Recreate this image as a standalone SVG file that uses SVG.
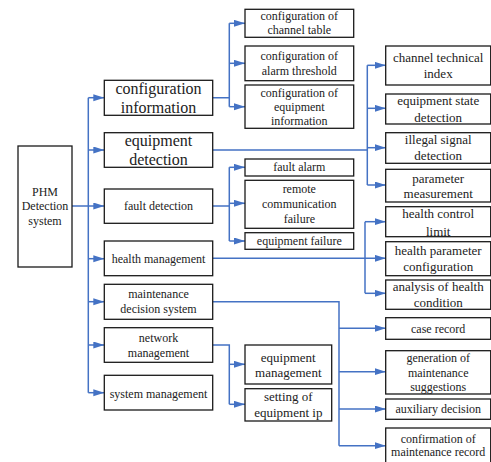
<svg xmlns="http://www.w3.org/2000/svg" width="491" height="462" viewBox="0 0 491 462">
<style>
.b{fill:#fff;stroke:#1a1a1a;stroke-width:1.3}
.t{font-family:"Liberation Serif","Times New Roman",serif;fill:#222;text-anchor:middle}
.s12{font-size:12px}.s13{font-size:13px}.s16{font-size:16px}
.c{fill:none;stroke:#4472C4;stroke-width:1.5}
</style>
<defs>
<marker id="a" markerUnits="userSpaceOnUse" markerWidth="12" markerHeight="8" refX="11" refY="3.5" orient="auto">
<path d="M0,0 L11,3.5 L0,7 z" fill="#4472C4"/>
</marker>
</defs>
<rect width="491" height="462" fill="#fff"/>
<g id="connectors">
<path class="c" d="M72,206 H88.3 M88.3,97.7 V392.7"/>
<path class="c" marker-end="url(#a)" d="M88.3,97.7 H104.3"/>
<path class="c" marker-end="url(#a)" d="M88.3,150 H104.3"/>
<path class="c" marker-end="url(#a)" d="M88.3,206 H104.3"/>
<path class="c" marker-end="url(#a)" d="M88.3,258.7 H104.3"/>
<path class="c" marker-end="url(#a)" d="M88.3,301.7 H104.3"/>
<path class="c" marker-end="url(#a)" d="M88.3,345 H104.3"/>
<path class="c" marker-end="url(#a)" d="M88.3,392.7 H104.3"/>
<path class="c" d="M212.7,97.7 H229.3 M229.3,23.3 V106.7"/>
<path class="c" marker-end="url(#a)" d="M229.3,23.3 H245"/>
<path class="c" marker-end="url(#a)" d="M229.3,63.3 H245"/>
<path class="c" marker-end="url(#a)" d="M229.3,106.7 H245"/>
<path class="c" d="M212.7,150 H367.3 M367.3,65.3 V185"/>
<path class="c" marker-end="url(#a)" d="M367.3,65.3 H385.7"/>
<path class="c" marker-end="url(#a)" d="M367.3,108.3 H385.7"/>
<path class="c" marker-end="url(#a)" d="M367.3,147.7 H385.7"/>
<path class="c" marker-end="url(#a)" d="M367.3,185 H385.7"/>
<path class="c" d="M212.7,206 H229.3 M229.3,167.3 V241"/>
<path class="c" marker-end="url(#a)" d="M229.3,167.3 H245"/>
<path class="c" marker-end="url(#a)" d="M229.3,203.3 H245"/>
<path class="c" marker-end="url(#a)" d="M229.3,241 H245"/>
<path class="c" marker-end="url(#a)" d="M212.7,258.3 H385.7"/>
<path class="c" d="M365,221.7 V293.3"/>
<path class="c" marker-end="url(#a)" d="M365,221.7 H385.7"/>
<path class="c" marker-end="url(#a)" d="M365,293.3 H385.7"/>
<path class="c" d="M212.7,301.7 H339 V445.7"/>
<path class="c" marker-end="url(#a)" d="M339,328.3 H385.7"/>
<path class="c" marker-end="url(#a)" d="M339,371.7 H385.7"/>
<path class="c" marker-end="url(#a)" d="M339,409 H385.7"/>
<path class="c" marker-end="url(#a)" d="M339,445.7 H385.7"/>
<path class="c" d="M212.7,345 H229.3 V404.3"/>
<path class="c" marker-end="url(#a)" d="M229.3,364.3 H245"/>
<path class="c" marker-end="url(#a)" d="M229.3,404.3 H245"/>
</g>
<g id="phm"><rect class="b" x="18" y="146" width="54" height="121"/>
<text class="t s12" x="45" y="196">PHM</text><text class="t s12" x="45" y="210">Detection</text><text class="t s12" x="45" y="225">system</text></g>
<g id="config-info"><rect class="b" x="104.3" y="80.3" width="108.4" height="35"/>
<text class="t s16" x="158.5" y="93.5">configuration</text><text class="t s16" x="158.5" y="113">information</text></g>
<g id="equip-detect"><rect class="b" x="104.3" y="132.7" width="108.4" height="34.6"/>
<text class="t s16" x="158.5" y="145.5">equipment</text><text class="t s16" x="158.5" y="165">detection</text></g>
<g id="fault-detect"><rect class="b" x="104.3" y="189" width="108.4" height="34.3"/>
<text class="t s12" x="158.5" y="210">fault detection</text></g>
<g id="health-mgmt"><rect class="b" x="104.3" y="241" width="108.4" height="34.7"/>
<text class="t s12" x="158.5" y="262.5">health management</text></g>
<g id="maint-decision"><rect class="b" x="104.3" y="284.3" width="108.4" height="35"/>
<text class="t s12" x="158.5" y="298">maintenance</text><text class="t s12" x="158.5" y="313">decision system</text></g>
<g id="network-mgmt"><rect class="b" x="104.3" y="327.7" width="108.4" height="34.6"/>
<text class="t s12" x="158.5" y="342">network</text><text class="t s12" x="158.5" y="356.5">management</text></g>
<g id="system-mgmt"><rect class="b" x="104.3" y="375.3" width="108.4" height="34.7"/>
<text class="t s12" x="158.5" y="397.5">system management</text></g>
<g id="channel-table"><rect class="b" x="245" y="9.3" width="108.7" height="28"/>
<text class="t s12" x="299.3" y="20">configuration of</text><text class="t s12" x="299.3" y="34">channel table</text></g>
<g id="alarm-threshold"><rect class="b" x="245" y="46" width="108.7" height="34.7"/>
<text class="t s12" x="299.3" y="60">configuration of</text><text class="t s12" x="299.3" y="75">alarm threshold</text></g>
<g id="equip-info"><rect class="b" x="245" y="85" width="108.7" height="43.3"/>
<text class="t s12" x="299.3" y="96.5">configuration of</text><text class="t s12" x="299.3" y="111">equipment</text><text class="t s12" x="299.3" y="125">information</text></g>
<g id="fault-alarm"><rect class="b" x="245" y="159" width="108.7" height="17"/>
<text class="t s12" x="299.3" y="171">fault alarm</text></g>
<g id="remote-fail"><rect class="b" x="245" y="180.3" width="108.7" height="48"/>
<text class="t s12" x="299.3" y="193">remote</text><text class="t s12" x="299.3" y="208">communication</text><text class="t s12" x="299.3" y="223">failure</text></g>
<g id="equip-failure"><rect class="b" x="245" y="232.7" width="108.7" height="16.6"/>
<text class="t s12" x="299.3" y="245">equipment failure</text></g>
<g id="equip-mgmt"><rect class="b" x="245" y="345" width="86.7" height="39"/>
<text class="t s13" x="288.3" y="362">equipment</text><text class="t s13" x="288.3" y="377">management</text></g>
<g id="setting-ip"><rect class="b" x="245" y="388.7" width="86.7" height="32.3"/>
<text class="t s13" x="288.3" y="400.5">setting of</text><text class="t s13" x="288.3" y="417">equipment ip</text></g>
<g id="channel-index"><rect class="b" x="385.7" y="46" width="105" height="39"/>
<text class="t s13" x="438.2" y="62">channel technical</text><text class="t s13" x="438.2" y="78">index</text></g>
<g id="state-detect"><rect class="b" x="385.7" y="94" width="105" height="30"/>
<text class="t s13" x="438.2" y="104.5">equipment state</text><text class="t s13" x="438.2" y="122">detection</text></g>
<g id="illegal-signal"><rect class="b" x="385.7" y="132.7" width="105" height="30.6"/>
<text class="t s13" x="438.2" y="144">illegal signal</text><text class="t s13" x="438.2" y="160">detection</text></g>
<g id="param-meas"><rect class="b" x="385.7" y="169.3" width="105" height="32.7"/>
<text class="t s13" x="438.2" y="183">parameter</text><text class="t s13" x="438.2" y="198">measurement</text></g>
<g id="health-limit"><rect class="b" x="385.7" y="206.7" width="105" height="30"/>
<text class="t s13" x="438.2" y="218">health control</text><text class="t s13" x="438.2" y="235.5">limit</text></g>
<g id="health-param"><rect class="b" x="385.7" y="241.7" width="105" height="34"/>
<text class="t s13" x="438.2" y="254.5">health parameter</text><text class="t s13" x="438.2" y="270.5">configuration</text></g>
<g id="health-analysis"><rect class="b" x="385.7" y="280" width="105" height="29.3"/>
<text class="t s13" x="438.2" y="291">analysis of health</text><text class="t s13" x="438.2" y="307">condition</text></g>
<g id="case-record"><rect class="b" x="385.7" y="317.7" width="105" height="21.6"/>
<text class="t s12" x="438.2" y="332.5">case record</text></g>
<g id="suggestions"><rect class="b" x="385.7" y="350.7" width="105" height="43.3"/>
<text class="t s12" x="438.2" y="362">generation of</text><text class="t s12" x="438.2" y="376.5">maintenance</text><text class="t s12" x="438.2" y="390.5">suggestions</text></g>
<g id="aux-decision"><rect class="b" x="385.7" y="399" width="105" height="20.3"/>
<text class="t s12" x="438.2" y="413">auxiliary decision</text></g>
<g id="confirm-record"><rect class="b" x="385.7" y="428" width="105" height="36"/>
<text class="t s12" x="438.2" y="442.5">confirmation of</text><text class="t s12" x="438.2" y="456">maintenance record</text></g>
</svg>
